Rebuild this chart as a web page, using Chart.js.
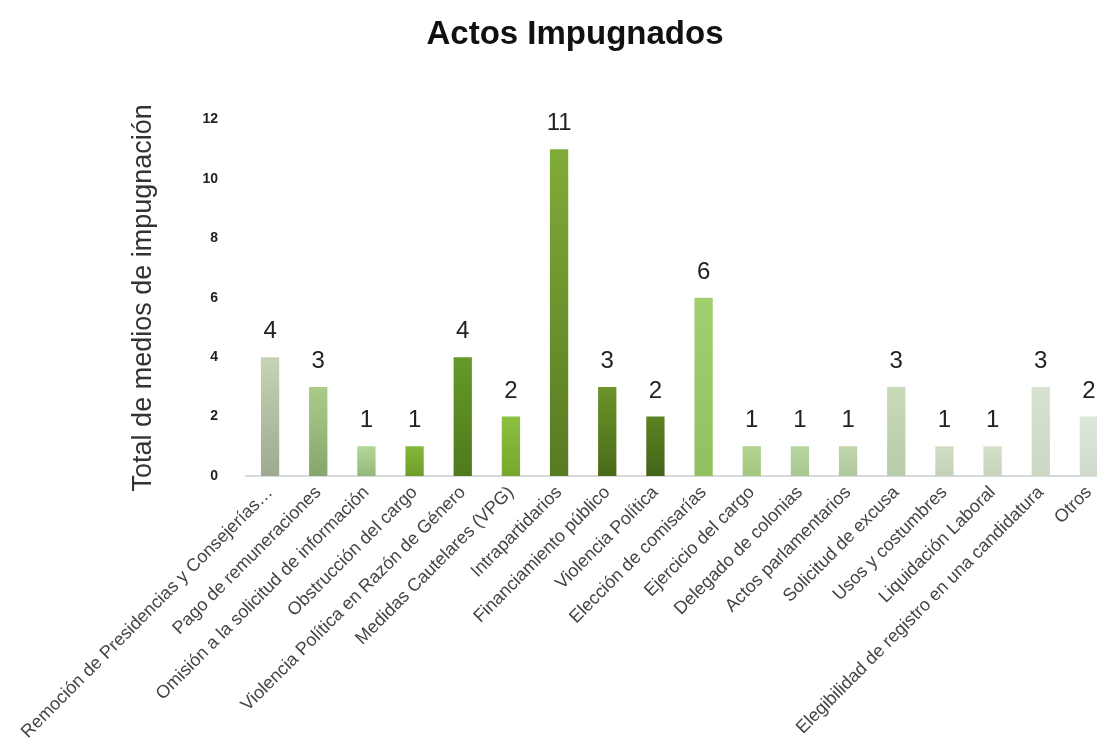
<html lang="es">
<head>
<meta charset="UTF-8">
<script src="https://cdn.jsdelivr.net/npm/chart.js"></script>
<title>Actos Impugnados</title>
<style>
  html, body { margin: 0; padding: 0; background: #fff; overflow: hidden; }
  #wrap { width: 1120px; height: 756px; }
</style>
</head>
<body>
<div id="wrap"><canvas id="myChart" width="1120" height="756"></canvas></div>
<script>
    var categorias = [
        'Remoción de Presidencias y Consejerías…',
        'Pago de remuneraciones',
        'Omisión a la solicitud de información',
        'Obstrucción del cargo',
        'Violencia Política en Razón de Género',
        'Medidas Cautelares (VPG)',
        'Intrapartidarios',
        'Financiamiento público',
        'Violencia Política',
        'Elección de comisarías',
        'Ejercicio del cargo',
        'Delegado de colonias',
        'Actos parlamentarios',
        'Solicitud de excusa',
        'Usos y costumbres',
        'Liquidación Laboral',
        'Elegibilidad de registro en una candidatura',
        'Otros'
    ];
    var valores = [4, 3, 1, 1, 4, 2, 11, 3, 2, 6, 1, 1, 1, 3, 1, 1, 3, 2];
    var ticksY = [0, 2, 4, 6, 8, 10, 12];

    // colores de arriba / abajo de cada barra
    var colorArriba = ['#c4d4b4', '#a9cc8a', '#b3d699', '#86b83a', '#659a2a', '#8cc040', '#80ac38', '#6a9428', '#5a8420',
        '#a2d070', '#b2d48e', '#b8d6a0', '#bed6aa', '#c8dab8', '#d0dec4', '#d4dec8', '#d8e2d0', '#dde6da'];
    var colorAbajo = ['#9fa98f', '#86a66c', '#94b87a', '#6e9c28', '#4f7a1c', '#76a82c', '#587a22', '#4a6a1a', '#44641a',
        '#90c060', '#a4c880', '#a8c890', '#b0c89c', '#b8ccaa', '#c4d2b8', '#c8d2bc', '#ccd6c4', '#d0dacc'];

    function relleno(context) {
        var chart = context.chart;
        var i = context.dataIndex;
        if (!chart.chartArea || !chart.scales.y) return colorArriba[i];
        var yTop = chart.scales.y.getPixelForValue(valores[i]);
        var yBot = chart.scales.y.getPixelForValue(0);
        var g = chart.ctx.createLinearGradient(0, yTop, 0, yBot);
        g.addColorStop(0, colorArriba[i]);
        g.addColorStop(1, colorAbajo[i]);
        return g;
    }

    var etiquetas = {
        id: 'etiquetas',
        afterDatasetsDraw: function (chart) {
            var ctx = chart.ctx;
            var meta = chart.getDatasetMeta(0);
            ctx.save();
            ctx.font = '24px "Liberation Sans", Arial, sans-serif';
            ctx.fillStyle = '#222';
            ctx.textAlign = 'center';
            ctx.textBaseline = 'alphabetic';
            meta.data.forEach(function (bar, i) {
                ctx.fillText(String(valores[i]), bar.x, bar.y - 19);
            });
            ctx.restore();
        }
    };

    const ctx = document.getElementById('myChart').getContext('2d');
    let myChart = new Chart(ctx, {
        type: 'bar',
        data: {
            labels: categorias,
            datasets: [{
                data: valores,
                backgroundColor: relleno,
                borderWidth: 0,
                barPercentage: 0.38,
                categoryPercentage: 1
            }]
        },
        plugins: [etiquetas],
        options: {
            responsive: false,
            animation: false,
            layout: { padding: { left: 37, right: 7, top: 0, bottom: 0 } },
            plugins: {
                legend: { display: false },
                tooltip: { enabled: false },
                title: {
                    display: true,
                    text: 'Actos Impugnados',
                    color: '#111',
                    font: { family: '"Liberation Sans", Arial, sans-serif', size: 33, weight: 'bold' },
                    padding: { top: 15, bottom: 65 }
                }
            },
            scales: {
                x: {
                    grid: { display: false, drawTicks: false },
                    border: { display: true, color: '#d6dade', width: 2 },
                    ticks: {
                        color: '#444',
                        font: { family: '"Liberation Sans", Arial, sans-serif', size: 18 },
                        minRotation: 45,
                        maxRotation: 45,
                        autoSkip: false,
                        padding: 6
                    },
                    afterFit: function (scale) { scale.height = 280; }
                },
                y: {
                    min: 0,
                    max: 12,
                    afterBuildTicks: function (scale) {
                        scale.ticks = ticksY.map(function (v) { return { value: v }; });
                    },
                    grid: { display: false, drawTicks: false },
                    border: { display: false },
                    ticks: {
                        color: '#222',
                        font: { family: '"Liberation Sans", Arial, sans-serif', size: 14, weight: 'bold' },
                        padding: 28
                    },
                    title: {
                        display: true,
                        text: 'Total de medios de impugnación',
                        color: '#333',
                        font: { family: '"Liberation Sans", Arial, sans-serif', size: 27 },
                        padding: { top: 90, bottom: 0 }
                    },
                    afterFit: function (scale) { scale.width = 209; }
                }
            }
        }
    });
</script>
</body>
</html>
